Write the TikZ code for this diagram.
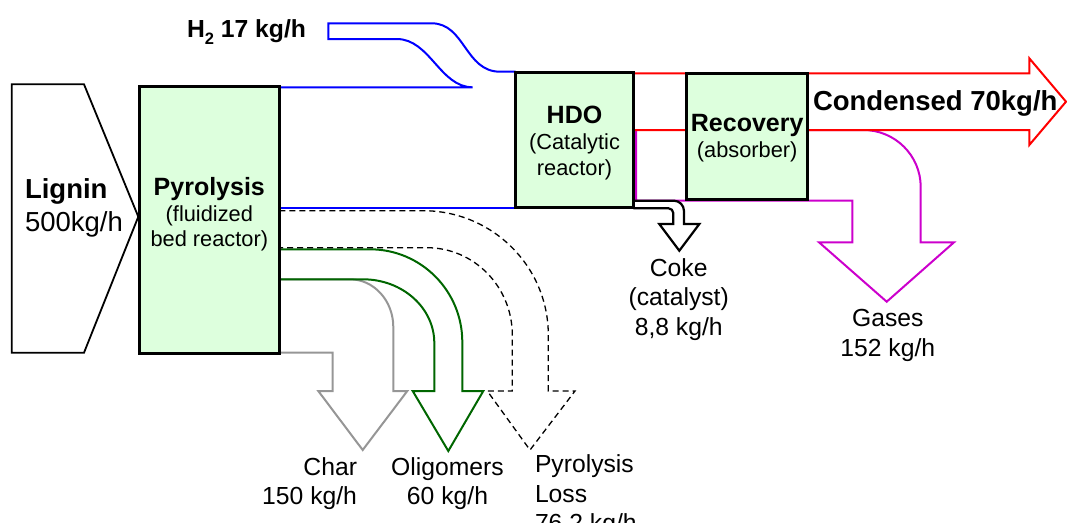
\documentclass[tikz,border=0pt]{standalone}
\usepackage{fontspec}
\setmainfont{Liberation Sans}
\definecolor{boxfill}{RGB}{221,255,221}
\definecolor{h2blue}{RGB}{0,0,255}
\definecolor{condred}{RGB}{255,0,0}
\definecolor{gasmag}{RGB}{204,0,204}
\definecolor{oligreen}{RGB}{0,102,0}
\definecolor{chargray}{RGB}{150,150,150}
\pgfdeclarelayer{bg}
\pgfsetlayers{bg,main}
\begin{document}
\begin{tikzpicture}[x=1pt,y=-1pt,
  every node/.style={inner sep=0pt, outer sep=0pt},
  box/.style={draw=black, line width=3.3pt, fill=boxfill, rectangle},
  flow/.style={line width=2pt, line join=miter},
  lossflow/.style={line width=1.3pt, dash pattern=on 6pt off 4pt, draw=black},
  lbl/.style={font=\fontsize{24.7}{24.7}\selectfont, anchor=base},
  ttl/.style={font=\fontsize{25}{25}\selectfont\bfseries, anchor=base},
  subt/.style={font=\fontsize{21.8}{21.8}\selectfont, anchor=base},
]
\useasboundingbox (0,0) rectangle (1067,522);

% Lignin input arrow
\draw[line width=1.8pt, line join=miter, fill=white] (11.7,84.3) -- (84,84.3) -- (138.3,216.7) -- (84,352.7) -- (11.7,352.7) -- cycle;

% process boxes
\node[box, minimum width=140pt, minimum height=266.6pt] (pyro) at (209.3,220) {};
\node[box, minimum width=117.6pt, minimum height=135pt] (hdo) at (574.5,140.2) {};
\node[box, minimum width=121pt, minimum height=126pt] (rec) at (747.2,136.3) {};

\begin{pgfonlayer}{bg}
% char (gray)
\draw[flow, draw=chargray] (pyro.east |- 0,279.3) -- (350,279.3) .. controls (373.9,279.3) and (393.3,300.7) .. (393.3,327) -- (393.3,391) -- (407.3,391) -- (362.7,450) -- (318.3,391) -- (332.7,391) -- (332.7,352.7) -- (pyro.east |- 0,352.7);
% oligomers (green)
\draw[flow, draw=oligreen] (pyro.east |- 0,249.3) -- (370,249.3) .. controls (421,249.3) and (462.3,290.8) .. (462.3,342) -- (462.3,391) -- (483.3,391) -- (448.3,451) -- (412.7,391) -- (434.3,391) -- (434.3,343) .. controls (434.3,307.8) and (402.4,279.3) .. (363,279.3) -- (pyro.east |- 0,279.3);
% pyrolysis loss (dashed)
\draw[lossflow] (pyro.east |- 0,210.7) -- (423,210.7) .. controls (492.2,210.7) and (548.3,266.3) .. (548.3,335) -- (548.3,391) -- (575,391) -- (530,450) -- (487.3,391) -- (512.3,391) -- (512.3,335) .. controls (512.3,286.8) and (474.1,247.7) .. (427,247.7) -- (pyro.east |- 0,247.7);
% H2 + vapour (blue)
\draw[flow, draw=h2blue] (pyro.east |- 0,87.3) -- (472.7,87.3) .. controls (440,87.3) and (430,39) .. (396.7,39) -- (328.3,39) -- (328.3,23.3) -- (431.7,23.3) .. controls (465,23.3) and (465,71.7) .. (500,71.7) -- (hdo.west |- 0,71.7);
\draw[flow, draw=h2blue] (pyro.east |- 0,208.3) -- (hdo.west |- 0,208.3);
% gases (magenta)
\draw[flow, draw=gasmag] (636,130) -- (636,200.7) -- (852.3,200.7) -- (852.3,242.3) -- (819,242.3) -- (886.7,301.7) -- (954,242.3) -- (920.7,242.3) -- (920.7,187) .. controls (920.7,155.5) and (895,130) .. (863.3,130) -- (rec.east |- 0,130);
% condensed (red)
\draw[flow, draw=condred] (hdo.east |- 0,73.3) -- (1029.3,73.3) -- (1029.3,58.3) -- (1066,101.7) -- (1029.3,145) -- (1029.3,130) -- (hdo.east |- 0,130);
% coke (black)
\draw[line width=2.2pt, line join=miter] (hdo.east |- 0,200.7) -- (674,200.7) .. controls (679.5,200.7) and (684,205.5) .. (684,211) -- (684,224) -- (699.3,224) -- (679.3,250.7) -- (659.3,224) -- (673.3,224) -- (673.3,213) .. controls (673.3,210.5) and (671,208.3) .. (668.5,208.3) -- (hdo.east |- 0,208.3);
\end{pgfonlayer}

% texts
\node[anchor=base west, font=\fontsize{24.7}{24.7}\selectfont\bfseries] (h2lbl) at (187,37.2) {H\raisebox{-7pt}{\fontsize{16.5}{16.5}\selectfont 2} 17 kg/h};

\node[anchor=base west, font=\fontsize{27.5}{27.5}\selectfont\bfseries] (lignin) at (25,198) {Lignin};
\node[anchor=base west, font=\fontsize{27.5}{27.5}\selectfont] (ligninrate) at (25,231.7) {500kg/h};

\node[ttl] (pyrot) at (pyro.center |- 0,195) {Pyrolysis};
\node[subt] (pyros1) at (pyro.center |- 0,221.7) {(fluidized};
\node[subt] (pyros2) at (pyro.center |- 0,246.7) {bed reactor)};

\node[ttl] (hdot) at (hdo.center |- 0,123.3) {HDO};
\node[subt] (hdos1) at (hdo.center |- 0,149.3) {(Catalytic};
\node[subt] (hdos2) at (hdo.center |- 0,175) {reactor)};

\node[ttl] (rect) at (rec.center |- 0,131.7) {Recovery};
\node[subt] (recs1) at (rec.center |- 0,157.3) {(absorber)};

\node[anchor=base west, font=\fontsize{27.5}{27.5}\selectfont\bfseries] (condt) at (813,110.7) {Condensed 70kg/h};

\node[lbl] (coke1) at (678.7,276.7) {Coke};
\node[lbl] (coke2) at (678.7,305.5) {(catalyst)};
\node[lbl] (coke3) at (678.7,335) {8,8 kg/h};

\node[lbl] (gas1) at (887.8,326.7) {Gases};
\node[lbl] (gas2) at (887.8,356.7) {152 kg/h};

\node[lbl, anchor=base east] (char1) at (357,475) {Char};
\node[lbl, anchor=base east] (char2) at (357,504.5) {150 kg/h};

\node[lbl] (oli1) at (447.5,475) {Oligomers};
\node[lbl] (oli2) at (447.5,504.5) {60 kg/h};

\node[lbl, anchor=base west] (loss1) at (535,472.5) {Pyrolysis};
\node[lbl, anchor=base west] (loss2) at (535,502) {Loss};
\node[lbl, anchor=base west] (loss3) at (535,531.5) {76,2 kg/h};
\end{tikzpicture}
\end{document}
